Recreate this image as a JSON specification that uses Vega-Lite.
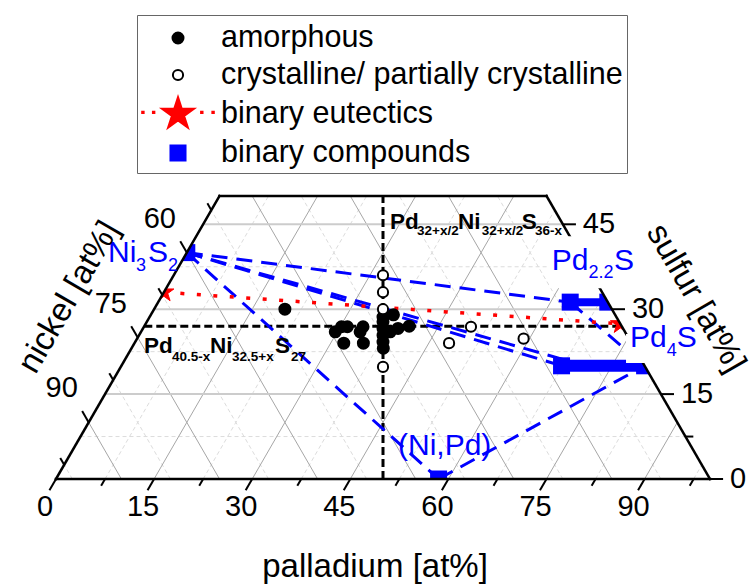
{
  "$schema": "https://vega.github.io/schema/vega-lite/v6.json",
  "width": 654,
  "height": 283,
  "autosize": {"type": "none"},
  "padding": {"left": 56, "top": 196, "right": 40, "bottom": 105},
  "background": "white",
  "config": {
    "view": {"stroke": null},
    "font": "Liberation Sans",
    "legend": {
      "orient": "none",
      "legendX": 81,
      "legendY": -181,
      "direction": "vertical",
      "labelFont": "Liberation Sans",
      "labelFontSize": 30.5,
      "labelColor": "black",
      "labelLimit": 600,
      "strokeColor": "#666666",
      "fillColor": "white",
      "padding": 4,
      "symbolOffset": 18,
      "labelOffset": 24,
      "rowPadding": 2,
      "symbolSize": 1282,
      "symbolStrokeWidth": 2
    }
  },
  "encoding": {
    "x": {"field": "x", "type": "quantitative", "scale": {"domain": [0, 100], "nice": false, "zero": false}, "axis": null},
    "y": {"field": "s", "type": "quantitative", "scale": {"domain": [0, 50], "nice": false, "zero": false}, "axis": null}
  },
  "datasets": {
    "grid": [
      {"c": "S", "v": 7.5}, {"c": "S", "v": 15}, {"c": "S", "v": 22.5}, {"c": "S", "v": 30}, {"c": "S", "v": 37.5}, {"c": "S", "v": 45},
      {"c": "Pd", "v": 7.5}, {"c": "Pd", "v": 15}, {"c": "Pd", "v": 22.5}, {"c": "Pd", "v": 30}, {"c": "Pd", "v": 37.5}, {"c": "Pd", "v": 45}, {"c": "Pd", "v": 52.5}, {"c": "Pd", "v": 60}, {"c": "Pd", "v": 67.5}, {"c": "Pd", "v": 75}, {"c": "Pd", "v": 82.5}, {"c": "Pd", "v": 90}, {"c": "Pd", "v": 97.5},
      {"c": "Ni", "v": 7.5}, {"c": "Ni", "v": 15}, {"c": "Ni", "v": 22.5}, {"c": "Ni", "v": 30}, {"c": "Ni", "v": 37.5}, {"c": "Ni", "v": 45}, {"c": "Ni", "v": 52.5}, {"c": "Ni", "v": 60}, {"c": "Ni", "v": 67.5}, {"c": "Ni", "v": 75}, {"c": "Ni", "v": 82.5}, {"c": "Ni", "v": 90}, {"c": "Ni", "v": 97.5}
    ],
    "ticks": [
      {"a": "b", "v": 0}, {"a": "b", "v": 7.5}, {"a": "b", "v": 15}, {"a": "b", "v": 22.5}, {"a": "b", "v": 30}, {"a": "b", "v": 37.5}, {"a": "b", "v": 45}, {"a": "b", "v": 52.5}, {"a": "b", "v": 60}, {"a": "b", "v": 67.5}, {"a": "b", "v": 75}, {"a": "b", "v": 82.5}, {"a": "b", "v": 90}, {"a": "b", "v": 97.5},
      {"a": "l", "v": 52.5}, {"a": "l", "v": 60}, {"a": "l", "v": 67.5}, {"a": "l", "v": 75}, {"a": "l", "v": 82.5}, {"a": "l", "v": 90}, {"a": "l", "v": 97.5},
      {"a": "r", "v": 0}, {"a": "r", "v": 7.5}, {"a": "r", "v": 15}, {"a": "r", "v": 22.5}, {"a": "r", "v": 30}, {"a": "r", "v": 37.5}, {"a": "r", "v": 45}
    ],
    "tlabels": [
      {"a": "b", "v": 0}, {"a": "b", "v": 15}, {"a": "b", "v": 30}, {"a": "b", "v": 45}, {"a": "b", "v": 60}, {"a": "b", "v": 75}, {"a": "b", "v": 90},
      {"a": "l", "v": 60}, {"a": "l", "v": 75}, {"a": "l", "v": 90},
      {"a": "r", "v": 0}, {"a": "r", "v": 15}, {"a": "r", "v": 30}, {"a": "r", "v": 45}
    ],
    "frame": [
      {"x": 0, "s": 0, "x2": 100, "s2": 0},
      {"x": 0, "s": 0, "x2": 25, "s2": 50},
      {"x": 25, "s": 50, "x2": 75, "s2": 50},
      {"x": 75, "s": 50, "x2": 100, "s2": 0}
    ],
    "mask": [
      {"m": "L", "x": 0, "s": 0, "s2": 50}, {"m": "L", "x": 25, "s": 50, "s2": 50},
      {"m": "R", "x": 75, "s": 50, "s2": 50}, {"m": "R", "x": 100, "s": 0, "s2": 50}
    ],
    "lines": [
      {"id": "h", "g": "ref", "q": 1, "pd": 0, "s": 27}, {"id": "h", "g": "ref", "q": 2, "pd": 73, "s": 27},
      {"id": "v", "g": "ref", "q": 1, "pd": 50, "s": 0}, {"id": "v", "g": "ref", "q": 2, "pd": 25, "s": 50},
      {"id": "e", "g": "eut", "q": 1, "pd": 0, "s": 33}, {"id": "e", "g": "eut", "q": 2, "pd": 72.6, "s": 27.4},
      {"id": "t1", "g": "tie", "q": 1, "pd": 0, "s": 40}, {"id": "t1", "g": "tie", "q": 2, "pd": 63, "s": 31.25},
      {"id": "t2", "g": "tie", "q": 1, "pd": 0, "s": 40}, {"id": "t2", "g": "tie", "q": 2, "pd": 67.3, "s": 20},
      {"id": "t3", "g": "tie", "q": 1, "pd": 0, "s": 40}, {"id": "t3", "g": "tie", "q": 2, "pd": 71, "s": 20},
      {"id": "t4", "g": "tie", "q": 1, "pd": 0, "s": 40}, {"id": "t4", "g": "tie", "q": 2, "pd": 58.5, "s": 0},
      {"id": "t5", "g": "tie", "q": 1, "pd": 58.5, "s": 0}, {"id": "t5", "g": "tie", "q": 2, "pd": 80, "s": 20},
      {"id": "t6", "g": "tie", "q": 1, "pd": 63, "s": 31.25}, {"id": "t6", "g": "tie", "q": 2, "pd": 80, "s": 20},
      {"id": "b1", "g": "bar1", "q": 1, "pd": 63, "s": 31.25}, {"id": "b1", "g": "bar1", "q": 2, "pd": 68.75, "s": 31.25},
      {"id": "b2", "g": "bar2", "q": 1, "pd": 67.3, "s": 20}, {"id": "b2", "g": "bar2", "q": 2, "pd": 80, "s": 20}
    ],
    "compounds": [
      {"name": "Ni3S2", "pd": 0, "s": 40},
      {"name": "(Ni,Pd)", "pd": 58.5, "s": 0},
      {"name": "Pd2.2S", "pd": 63, "s": 31.25},
      {"name": "Pd2.2S", "pd": 68.75, "s": 31.25},
      {"name": "Pd4S", "pd": 67.3, "s": 20},
      {"name": "Pd4S", "pd": 80, "s": 20}
    ],
    "eutectics": [
      {"pair": "Ni-S", "pd": 0, "s": 33},
      {"pair": "Pd-S", "pd": 72.6, "s": 27.4}
    ],
    "samples": [
      {"kind": "amorphous", "pd": 20, "s": 30},
      {"kind": "amorphous", "pd": 29.7, "s": 26},
      {"kind": "amorphous", "pd": 30.2, "s": 26.9},
      {"kind": "amorphous", "pd": 31.1, "s": 26.9},
      {"kind": "amorphous", "pd": 32, "s": 24},
      {"kind": "amorphous", "pd": 33.5, "s": 26},
      {"kind": "amorphous", "pd": 33.5, "s": 26.9},
      {"kind": "amorphous", "pd": 35, "s": 24},
      {"kind": "amorphous", "pd": 35.7, "s": 28.6},
      {"kind": "amorphous", "pd": 36.1, "s": 27.8},
      {"kind": "amorphous", "pd": 36.7, "s": 26.6},
      {"kind": "amorphous", "pd": 37.3, "s": 25.4},
      {"kind": "amorphous", "pd": 37.9, "s": 24.2},
      {"kind": "amorphous", "pd": 38.5, "s": 23.1},
      {"kind": "amorphous", "pd": 37.1, "s": 29},
      {"kind": "amorphous", "pd": 38.1, "s": 26},
      {"kind": "amorphous", "pd": 39, "s": 26.6},
      {"kind": "amorphous", "pd": 40.5, "s": 27},
      {"kind": "crystalline/ partially crystalline", "pd": 32, "s": 36},
      {"kind": "crystalline/ partially crystalline", "pd": 33.5, "s": 33},
      {"kind": "crystalline/ partially crystalline", "pd": 35, "s": 30},
      {"kind": "crystalline/ partially crystalline", "pd": 40.1, "s": 19.8},
      {"kind": "crystalline/ partially crystalline", "pd": 50, "s": 26.9},
      {"kind": "crystalline/ partially crystalline", "pd": 48.1, "s": 24},
      {"kind": "crystalline/ partially crystalline", "pd": 59.1, "s": 24.8}
    ],
    "boxes": [
      {"x": 75.38, "s": 33.7, "x2": 88.69, "s2": 42.9},
      {"x": 87.16, "s": 20.48, "x2": 99.24, "s2": 25.6}
    ],
    "labels": [
      {"t": "Ni", "x": 7.95, "s": 38.36, "g": "bm"}, {"t": "3", "x": 12.23, "s": 36.72, "g": "bs"},
      {"t": "S", "x": 14.07, "s": 38.36, "g": "bm"}, {"t": "2", "x": 17.13, "s": 36.72, "g": "bs"},
      {"t": "Pd", "x": 75.79, "s": 36.9, "g": "bm"}, {"t": "2.2", "x": 81.41, "s": 35.49, "g": "bs"},
      {"t": "S", "x": 85.32, "s": 36.9, "g": "bm"},
      {"t": "Pd", "x": 87.77, "s": 23.36, "g": "bm"}, {"t": "4", "x": 93.37, "s": 21.72, "g": "bs"},
      {"t": "S", "x": 94.9, "s": 23.36, "g": "bm"},
      {"t": "(Ni,Pd)", "x": 52.29, "s": 4.24, "g": "bm"},
      {"t": "Pd", "x": 51.07, "s": 44.14, "g": "km"}, {"t": "32+x/2", "x": 55.2, "s": 43.08, "g": "ks"},
      {"t": "Ni", "x": 61.47, "s": 44.14, "g": "km"}, {"t": "32+x/2", "x": 65.09, "s": 43.08, "g": "ks"},
      {"t": "S", "x": 71.21, "s": 44.14, "g": "km"}, {"t": "36-x", "x": 73.24, "s": 43.08, "g": "ks"},
      {"t": "Pd", "x": 13.46, "s": 22.19, "g": "km"}, {"t": "40.5-x", "x": 17.74, "s": 20.83, "g": "ks"},
      {"t": "Ni", "x": 23.55, "s": 22.19, "g": "km"}, {"t": "32.5+x", "x": 26.91, "s": 20.83, "g": "ks"},
      {"t": "S", "x": 33.49, "s": 22.19, "g": "km"}, {"t": "27", "x": 35.93, "s": 20.83, "g": "ks"}
    ]
  },
  "layer": [
    {
      "data": {"name": "grid"},
      "transform": [
        {"calculate": "datum.v % 15 === 0", "as": "major"},
        {"calculate": "min(100 - datum.v, 50)", "as": "se"},
        {"calculate": "datum.c === 'S' ? datum.v / 2 : datum.c === 'Pd' ? datum.v : 100 - datum.v", "as": "x"},
        {"calculate": "datum.c === 'S' ? datum.v : 0", "as": "s"},
        {"calculate": "datum.c === 'S' ? 100 - datum.v / 2 : datum.c === 'Pd' ? datum.v + datum.se / 2 : 100 - datum.v - datum.se / 2", "as": "x2"},
        {"calculate": "datum.c === 'S' ? datum.v : datum.se", "as": "s2"}
      ],
      "layer": [
        {
          "transform": [{"filter": "!datum.major"}],
          "mark": {"type": "rule", "stroke": "#dcdcdc", "strokeWidth": 1, "strokeDash": [4, 3]},
          "encoding": {"x2": {"field": "x2"}, "y2": {"field": "s2"}}
        },
        {
          "transform": [{"filter": "datum.major && datum.c !== 'S'"}],
          "mark": {"type": "rule", "stroke": "#a6a6a6", "strokeWidth": 1},
          "encoding": {"x2": {"field": "x2"}, "y2": {"field": "s2"}}
        },
        {
          "transform": [{"filter": "datum.major && datum.c === 'S'"}],
          "mark": {"type": "rule", "stroke": "#cccccc", "strokeWidth": 2},
          "encoding": {"x2": {"field": "x2"}, "y2": {"field": "s2"}}
        }
      ]
    },
    {
      "data": {"name": "lines"},
      "transform": [{"calculate": "datum.pd + datum.s / 2", "as": "x"}],
      "layer": [
        {
          "transform": [{"filter": "datum.g === 'ref'"}],
          "mark": {"type": "line", "stroke": "black", "strokeWidth": 3, "strokeDash": [8, 4], "clip": true},
          "encoding": {"detail": {"field": "id"}, "order": {"field": "q"}}
        },
        {
          "transform": [{"filter": "datum.g === 'tie'"}],
          "mark": {"type": "line", "stroke": "#0000ff", "strokeWidth": 3, "strokeDash": [16, 9], "clip": true},
          "encoding": {"detail": {"field": "id"}, "order": {"field": "q"}}
        },
        {
          "transform": [{"filter": "datum.g === 'eut'"}],
          "mark": {"type": "line", "stroke": "#ff0000", "strokeWidth": 3.5, "strokeDash": [4, 12.5], "clip": true},
          "encoding": {"detail": {"field": "id"}, "order": {"field": "q"}}
        },
        {
          "transform": [{"filter": "datum.g === 'bar1'"}],
          "mark": {"type": "line", "stroke": "#0000ff", "strokeWidth": 8, "clip": true},
          "encoding": {"detail": {"field": "id"}, "order": {"field": "q"}}
        },
        {
          "transform": [{"filter": "datum.g === 'bar2'"}],
          "mark": {"type": "line", "stroke": "#0000ff", "strokeWidth": 12, "clip": true},
          "encoding": {"detail": {"field": "id"}, "order": {"field": "q"}}
        }
      ]
    },
    {
      "data": {"name": "compounds"},
      "transform": [{"calculate": "datum.pd + datum.s / 2", "as": "x"}],
      "mark": {"type": "point", "shape": "square", "size": 289, "filled": true, "fill": "#0000ff", "strokeWidth": 0, "opacity": 1, "clip": true}
    },
    {
      "data": {"name": "eutectics"},
      "transform": [{"calculate": "datum.pd + datum.s / 2", "as": "x"}],
      "mark": {"type": "point", "shape": "M0,-0.94L0.212,-0.291L0.894,-0.29L0.342,0.111L0.553,0.76L0,0.36L-0.553,0.76L-0.342,0.111L-0.894,-0.29L-0.212,-0.291Z", "size": 500, "filled": true, "fill": "#ff0000", "stroke": "#ff0000", "strokeWidth": 1, "opacity": 1, "clip": true}
    },
    {
      "data": {"name": "samples"},
      "transform": [{"calculate": "datum.pd + datum.s / 2", "as": "x"}],
      "mark": {"type": "point", "size": 1282, "strokeWidth": 2, "opacity": 1, "clip": true},
      "encoding": {
        "shape": {
          "field": "kind", "type": "nominal", "title": null,
          "scale": {
            "domain": ["amorphous", "crystalline/ partially crystalline", "binary eutectics", "binary compounds"],
            "range": [
              "M0.307,0A0.307,0.307,0,1,1,-0.307,0A0.307,0.307,0,1,1,0.307,0Z",
              "M0.285,0A0.285,0.285,0,1,1,-0.285,0A0.285,0.285,0,1,1,0.285,0Z",
              "M0,-0.94L0.212,-0.291L0.894,-0.29L0.342,0.111L0.553,0.76L0,0.36L-0.553,0.76L-0.342,0.111L-0.894,-0.29L-0.212,-0.291ZM-2.0,-0.12H-1.92V-0.06H-2.0ZM-1.4,-0.12H-1.32V-0.06H-1.4ZM1.29,-0.12H1.37V-0.06H1.29ZM1.92,-0.12H2.0V-0.06H1.92Z",
              "M-0.42,-0.42H0.42V0.42H-0.42Z"
            ]
          }
        },
        "fill": {
          "field": "kind", "type": "nominal", "title": null,
          "scale": {
            "domain": ["amorphous", "crystalline/ partially crystalline", "binary eutectics", "binary compounds"],
            "range": ["#000000", "#ffffff", "#ff0000", "#0000ff"]
          }
        },
        "stroke": {
          "field": "kind", "type": "nominal", "title": null,
          "scale": {
            "domain": ["amorphous", "crystalline/ partially crystalline", "binary eutectics", "binary compounds"],
            "range": ["#000000", "#000000", "#ff0000", "#0000ff"]
          }
        }
      }
    },
    {
      "data": {"name": "mask"},
      "mark": {"type": "area", "fill": "white", "stroke": "white", "strokeWidth": 0.5},
      "encoding": {"y2": {"field": "s2"}, "detail": {"field": "m"}}
    },
    {
      "data": {"name": "frame"},
      "mark": {"type": "rule", "stroke": "black", "strokeWidth": 2.5, "strokeCap": "square"},
      "encoding": {"x2": {"field": "x2"}, "y2": {"field": "s2"}}
    },
    {
      "data": {"name": "ticks"},
      "transform": [
        {"calculate": "datum.v % 15 === 0 ? 2.0 : 1.2", "as": "L"},
        {"calculate": "datum.a === 'b' ? datum.v : datum.a === 'l' ? (100 - datum.v) / 2 : 100 - datum.v / 2", "as": "x"},
        {"calculate": "datum.a === 'b' ? 0 : datum.a === 'l' ? 100 - datum.v : datum.v", "as": "s"},
        {"calculate": "datum.a === 'b' ? datum.v - datum.L / 2 : datum.a === 'l' ? (100 - datum.v) / 2 - datum.L / 2 : 100 - datum.v / 2 + datum.L", "as": "x2"},
        {"calculate": "datum.a === 'b' ? -datum.L : datum.a === 'l' ? 100 - datum.v + datum.L : datum.v", "as": "s2"}
      ],
      "mark": {"type": "rule", "stroke": "black", "strokeWidth": 2},
      "encoding": {"x2": {"field": "x2"}, "y2": {"field": "s2"}}
    },
    {
      "data": {"name": "tlabels"},
      "transform": [
        {"calculate": "datum.a === 'b' ? datum.v : datum.a === 'l' ? (100 - datum.v) / 2 : 100 - datum.v / 2", "as": "x"},
        {"calculate": "datum.a === 'b' ? 0 : datum.a === 'l' ? 100 - datum.v : datum.v", "as": "s"}
      ],
      "layer": [
        {
          "transform": [{"filter": "datum.a === 'b'"}],
          "mark": {"type": "text", "fontSize": 29, "align": "center", "baseline": "middle", "dx": -11, "dy": 28, "fill": "black"},
          "encoding": {"text": {"field": "v", "type": "quantitative"}}
        },
        {
          "transform": [{"filter": "datum.a === 'l'"}],
          "mark": {"type": "text", "fontSize": 29, "align": "center", "baseline": "middle", "dx": -27, "dy": -34, "fill": "black"},
          "encoding": {"text": {"field": "v", "type": "quantitative"}}
        },
        {
          "transform": [{"filter": "datum.a === 'r'"}],
          "mark": {"type": "text", "fontSize": 29, "align": "left", "baseline": "middle", "dx": 20, "dy": 0, "fill": "black"},
          "encoding": {"text": {"field": "v", "type": "quantitative"}}
        }
      ]
    },
    {
      "data": {"name": "boxes"},
      "mark": {"type": "rect", "fill": "white"},
      "encoding": {"x2": {"field": "x2"}, "y2": {"field": "s2"}}
    },
    {
      "data": {"name": "labels"},
      "layer": [
        {
          "transform": [{"filter": "datum.g === 'bm'"}],
          "mark": {"type": "text", "fontSize": 30, "align": "left", "baseline": "alphabetic", "fill": "#0000ff"},
          "encoding": {"text": {"field": "t"}}
        },
        {
          "transform": [{"filter": "datum.g === 'bs'"}],
          "mark": {"type": "text", "fontSize": 18, "align": "left", "baseline": "alphabetic", "fill": "#0000ff"},
          "encoding": {"text": {"field": "t"}}
        },
        {
          "transform": [{"filter": "datum.g === 'km'"}],
          "mark": {"type": "text", "fontSize": 22.5, "fontWeight": "bold", "align": "left", "baseline": "alphabetic", "fill": "black"},
          "encoding": {"text": {"field": "t"}}
        },
        {
          "transform": [{"filter": "datum.g === 'ks'"}],
          "mark": {"type": "text", "fontSize": 13.5, "fontWeight": "bold", "align": "left", "baseline": "alphabetic", "fill": "black"},
          "encoding": {"text": {"field": "t"}}
        }
      ]
    },
    {
      "data": {"values": [{"t": "nickel [at%]", "x": 1.99, "s": 32.13}]},
      "mark": {"type": "text", "fontSize": 33, "angle": -60, "align": "center", "baseline": "middle", "fill": "black"},
      "encoding": {"text": {"field": "t"}}
    },
    {
      "data": {"values": [{"t": "sulfur [at%]", "x": 97.86, "s": 31.96}]},
      "mark": {"type": "text", "fontSize": 33, "angle": 60, "align": "center", "baseline": "middle", "fill": "black"},
      "encoding": {"text": {"field": "t"}}
    },
    {
      "data": {"values": [{"t": "palladium [at%]", "x": 48.78, "s": -15.54}]},
      "mark": {"type": "text", "fontSize": 33, "align": "center", "baseline": "middle", "fill": "black"},
      "encoding": {"text": {"field": "t"}}
    }
  ]
}
